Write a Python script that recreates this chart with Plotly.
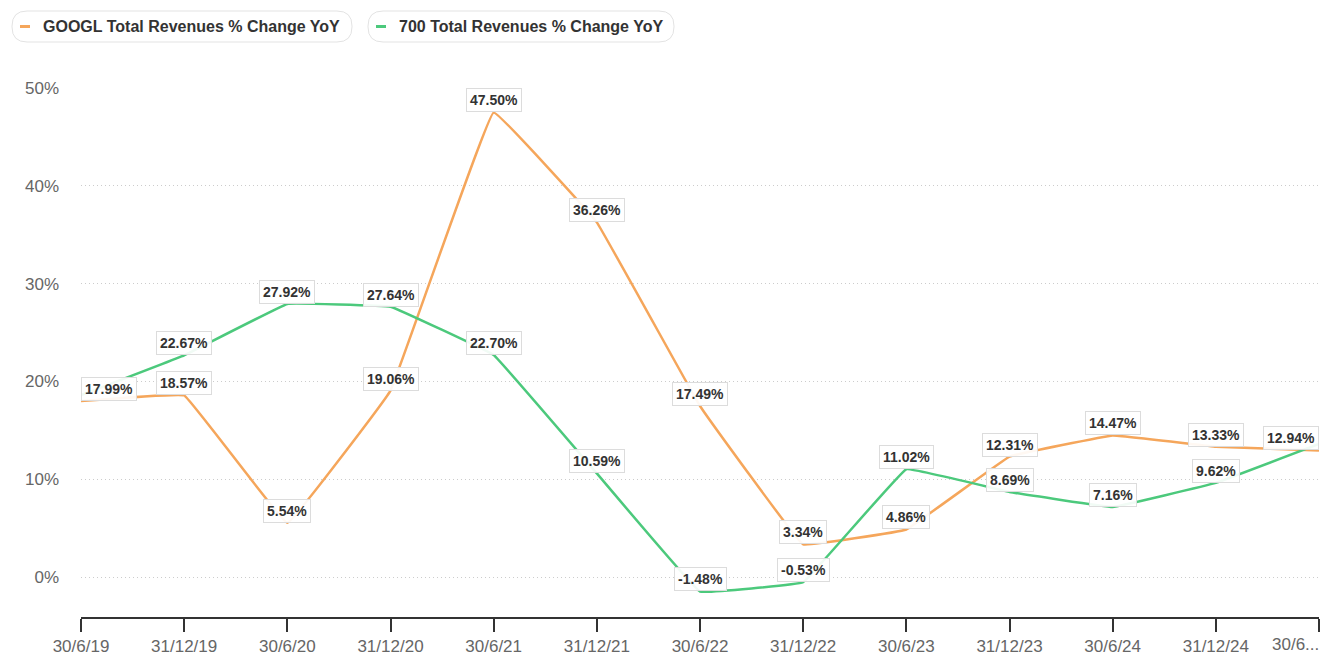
import plotly.graph_objects as go

dates = ["30/6/19", "31/12/19", "30/6/20", "31/12/20", "30/6/21", "31/12/21", "30/6/22",
         "31/12/22", "30/6/23", "31/12/23", "30/6/24", "31/12/24", "30/6/25"]
tick_text = ["30/6/19", "31/12/19", "30/6/20", "31/12/20", "30/6/21", "31/12/21", "30/6/22",
             "31/12/22", "30/6/23", "31/12/23", "30/6/24", "31/12/24", "30/6..."]
googl = [17.99, 18.57, 5.54, 19.06, 47.50, 36.26, 17.49, 3.34, 4.86, 12.31, 14.47, 13.33, 12.94]
tencent = [18.6, 22.67, 27.92, 27.64, 22.70, 10.59, -1.48, -0.53, 11.02, 8.69, 7.16, 9.62, 13.6]
# labels hidden in the reference because of overlap
tencent_show = [False, True, True, True, True, True, True, True, True, True, True, True, False]
googl_show = [True] * 13

series = [
    ("GOOGL Total Revenues % Change YoY", googl, googl_show, "#F5A65B"),
    ("700 Total Revenues % Change YoY", tencent, tencent_show, "#4CC97C"),
]

OFF = 8  # page body margin
W, H = 1325, 650
L, R, T, B = 81 - OFF, 1319 - OFF, 88 - OFF, 617 - OFF
FONT = "Liberation Sans, Arial, sans-serif"

fig = go.Figure()
xs = list(range(len(dates)))
n = len(dates)
for name, vals, show, color in series:
    fig.add_trace(go.Scatter(
        x=xs, y=vals, mode="lines", name=name,
        line=dict(color=color, width=2.5, shape="spline", smoothing=0.15),
        showlegend=False, hoverinfo="skip"))

annotations = []
for name, vals, show, color in series:
    for i, (v, s) in enumerate(zip(vals, show)):
        if not s:
            continue
        xa = "left" if i == 0 else ("right" if i == n - 1 else "center")
        annotations.append(dict(
            x=i, y=v, xref="x", yref="y", text=f"{v:.2f}%", showarrow=False,
            yanchor="bottom", xanchor=xa, yshift=0,
            font=dict(family=FONT, size=14, color="#333333", weight="bold"),
            bgcolor="rgba(255,255,255,0.92)", bordercolor="#dcdcdc", borderwidth=1, borderpad=3))

# last tick label is drawn right-aligned to its tick (as in the reference)
annotations.append(dict(
    x=n - 1, y=0, xref="x", yref="paper", yanchor="top", xanchor="right",
    yshift=-16, xshift=2, showarrow=False, text=tick_text[-1],
    font=dict(family=FONT, size=17, color="#666666")))
shown_ticks = tick_text[:-1] + [""]


def px(x):
    return (x - OFF - L) / (R - L)


def py(y):
    return (B - (y - OFF)) / (B - T)


def rounded_rect(x0, y0, x1, y1, r):
    rx = r / (R - L)
    ry = r / (B - T)
    X0, X1 = px(x0), px(x1)
    Y0, Y1 = py(y0), py(y1)
    return (f"M {X0+rx},{Y0} L {X1-rx},{Y0} Q {X1},{Y0} {X1},{Y0-ry} "
            f"L {X1},{Y1+ry} Q {X1},{Y1} {X1-rx},{Y1} L {X0+rx},{Y1} "
            f"Q {X0},{Y1} {X0},{Y1+ry} L {X0},{Y0-ry} Q {X0},{Y0} {X0+rx},{Y0} Z")


shapes = []
legend_boxes = [(12, 352), (368, 674)]
for (bx0, bx1), (name, vals, show, color) in zip(legend_boxes, series):
    shapes.append(dict(type="path", xref="paper", yref="paper",
                       path=rounded_rect(bx0, 11, bx1, 42, 15),
                       line=dict(color="#e3e3e3", width=1), fillcolor="white", layer="above"))
    shapes.append(dict(type="line", xref="paper", yref="paper",
                       x0=px(bx0 + 8), x1=px(bx0 + 18), y0=py(26.5), y1=py(26.5),
                       line=dict(color=color, width=3)))
    annotations.append(dict(x=px(bx0 + 29), y=py(26.5), xref="paper", yref="paper",
                            xanchor="left", yanchor="middle", showarrow=False, text=name,
                            font=dict(family=FONT, size=16, color="#333333", weight="bold")))

fig.update_layout(
    width=W, height=H,
    margin=dict(l=L, r=W - R, t=T, b=H - B, pad=0, autoexpand=False),
    paper_bgcolor="white", plot_bgcolor="white",
    font=dict(family=FONT, size=17, color="#666666"),
    xaxis=dict(
        range=[0, n - 1], tickmode="array", tickvals=xs, ticktext=shown_ticks,
        showgrid=False, zeroline=False, showline=True, linecolor="#333333", linewidth=1.5,
        ticks="outside", ticklen=13, tickwidth=1.5, tickcolor="#333333", automargin=False,
        tickfont=dict(family=FONT, size=17, color="#666666"), fixedrange=True),
    yaxis=dict(
        range=[-4.09, 50], tickvals=[0, 10, 20, 30, 40, 50],
        ticktext=["0%", "10%", "20%", "30%", "40%", "50%"],
        showgrid=True, gridcolor="#cccccc", griddash="1px,3px", gridwidth=1,
        zeroline=False, showline=False, ticks="", ticklabelstandoff=21, automargin=False,
        tickfont=dict(family=FONT, size=17, color="#666666"), fixedrange=True),
    annotations=annotations, shapes=shapes, showlegend=False,
)

fig.write_html("out.html")
